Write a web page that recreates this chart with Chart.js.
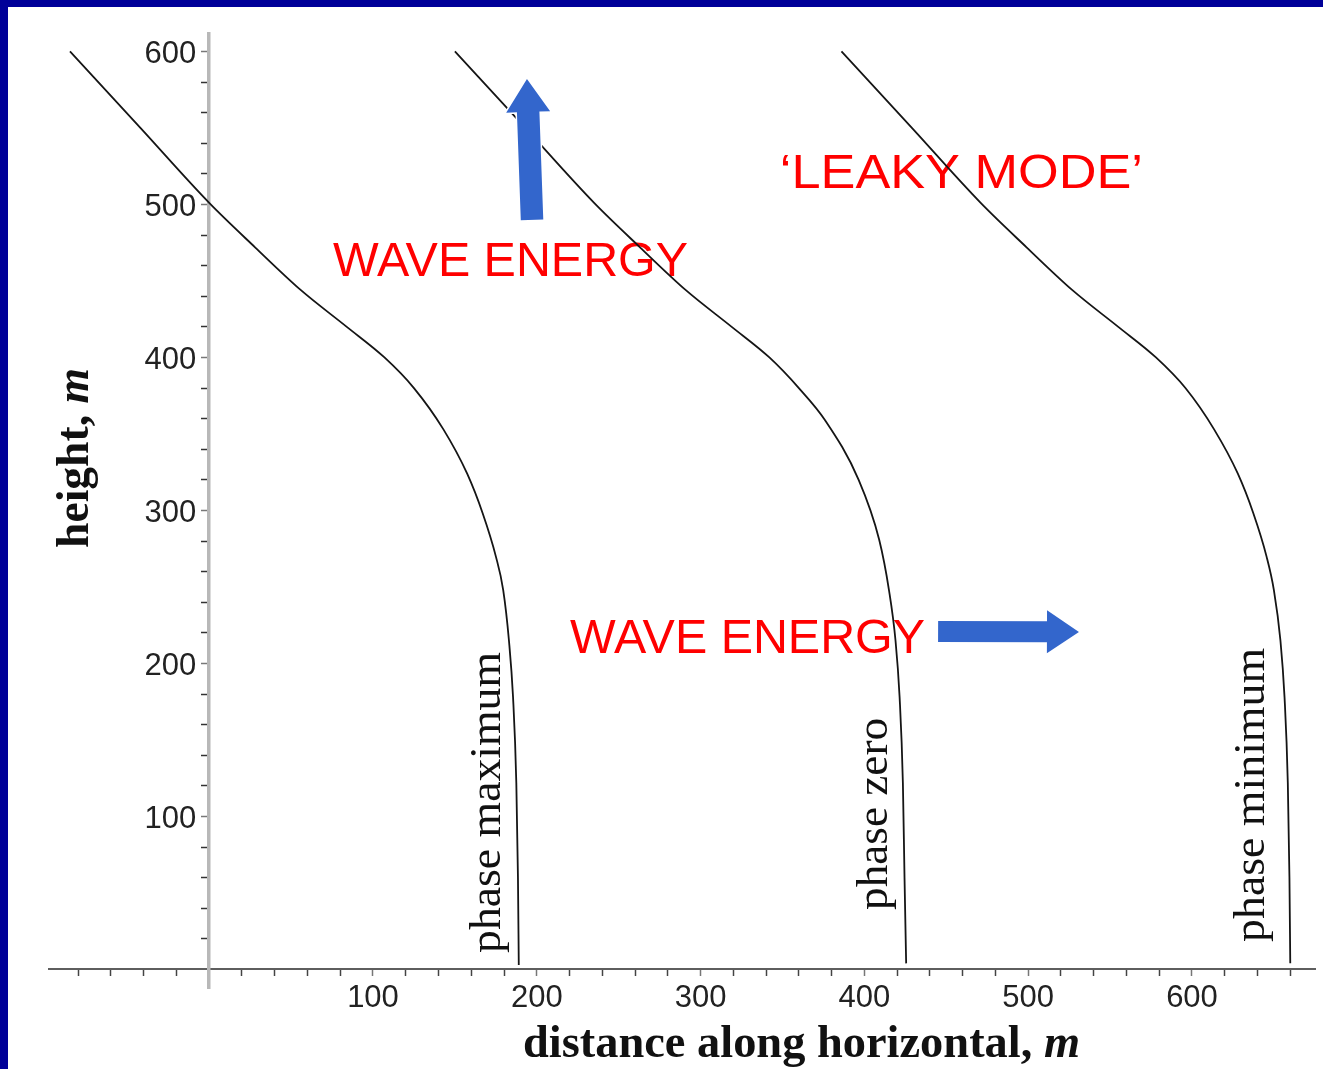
<!DOCTYPE html>
<html>
<head>
<meta charset="utf-8">
<title>Leaky mode phase lines</title>
<script src="https://cdn.jsdelivr.net/npm/chart.js@4.4.1/dist/chart.umd.min.js"></script>
<style>
  html, body { margin: 0; padding: 0; background: #000099; overflow: hidden; }
  #panel { position: absolute; left: 8px; top: 7px; right: 0; bottom: 0; background: #ffffff; }
  #wrap { position: absolute; left: 0; top: 0; width: 1323px; height: 1069px; }
</style>
</head>
<body>
<div id="panel"></div>
<div id="wrap"><canvas id="chart"></canvas></div>
<script>
// Lines of constant phase (height in m against horizontal distance in m)
const PHASE_MAX_HEIGHT = [600, 550, 501, 472, 444, 420, 400, 380, 353, 324, 298, 270, 248, 215, 178, 122, 60, 3];
const PHASE_MAX_DIST   = [-85, -42, 0, 28, 56, 84, 107, 125, 143, 157.5, 167, 175, 179.5, 183, 185.5, 187.5, 188.5, 189];

const PHASE_ZERO_HEIGHT = [600, 550, 501, 472, 444, 420, 400, 380, 359, 320, 281, 248, 215, 178, 122, 60, 4];
const PHASE_ZERO_DIST   = [150, 193, 235, 263, 291, 319, 342, 360, 376, 396.5, 409, 415, 419, 421.5, 423.5, 424.5, 425.5];

const PHASE_MIN_HEIGHT = [600, 550, 501, 472, 444, 420, 400, 380, 353, 324, 298, 270, 248, 215, 178, 122, 60, 4];
const PHASE_MIN_DIST   = [386, 429, 471, 499, 527, 555, 578, 596, 613.5, 628, 637.5, 645.5, 650, 654, 656.5, 658.5, 659.5, 660];

// Axis ticks
const X_TICK_LABELS = [100, 200, 300, 400, 500, 600];
const Y_TICK_LABELS = [100, 200, 300, 400, 500, 600];
const X_MINOR = { from: -80, to: 660, step: 20 };
const Y_MINOR = { from: 20, to: 600, step: 20 };

// Text
const CURVE_LABELS = ['phase maximum', 'phase zero', 'phase minimum'];
const X_TITLE = ['distance along horizontal, ', 'm'];
const Y_TITLE = ['height, ', 'm'];
const ENERGY_TEXT = 'WAVE ENERGY';
const MODE_TEXT = '\u2018LEAKY MODE\u2019';

function toPoints(xs, ys) {
  return xs.map((x, i) => ({ x: x, y: ys[i] }));
}
function tickRange(r) {
  const out = [];
  for (let v = r.from; v <= r.to + 1e-9; v += r.step) if (v !== 0) out.push(v);
  return out;
}

// Linear scale whose tick labels can be nudged away from a centred axis line
class ShiftedLinearScale extends Chart.LinearScale {
  _computeLabelItems(chartArea) {
    const items = super._computeLabelItems(chartArea);
    const dx = this.options.labelShiftX || 0;
    const dy = this.options.labelShiftY || 0;
    items.forEach(it => {
      it.options.translation[0] += dx;
      it.options.translation[1] += dy;
    });
    return items;
  }
}
ShiftedLinearScale.id = 'shiftedLinear';
ShiftedLinearScale.defaults = Chart.LinearScale.defaults;
Chart.register(ShiftedLinearScale);

const SERIF = "'Liberation Serif', 'Times New Roman', serif";
const SANS = "'Liberation Sans', Arial, sans-serif";

// Draw a sequence of differently styled text runs, optionally stretched to a length
function drawRuns(ctx, runs, x, y, rotation, targetLen, align) {
  ctx.save();
  ctx.translate(x, y);
  ctx.rotate(rotation);
  let total = 0;
  runs.forEach(r => { ctx.font = r.font; r.w = ctx.measureText(r.text).width; total += r.w; });
  const s = targetLen ? targetLen / total : 1;
  ctx.scale(s, 1);
  let cx = align === 'center' ? -total / 2 : 0;
  ctx.textAlign = 'left';
  ctx.textBaseline = 'alphabetic';
  runs.forEach(r => {
    ctx.font = r.font;
    ctx.fillStyle = r.color;
    ctx.fillText(r.text, cx, 0);
    cx += r.w;
  });
  ctx.restore();
}

function drawArrow(ctx, x0, y0, x1, y1, shaftW, headW, headL, color) {
  const dx = x1 - x0, dy = y1 - y0, len = Math.hypot(dx, dy);
  const ux = dx / len, uy = dy / len, px = -uy, py = ux;
  const bx = x1 - ux * headL, by = y1 - uy * headL;
  ctx.save();
  ctx.beginPath();
  ctx.moveTo(x0 + px * shaftW / 2, y0 + py * shaftW / 2);
  ctx.lineTo(bx + px * shaftW / 2, by + py * shaftW / 2);
  ctx.lineTo(bx + px * headW / 2, by + py * headW / 2);
  ctx.lineTo(x1, y1);
  ctx.lineTo(bx - px * headW / 2, by - py * headW / 2);
  ctx.lineTo(bx - px * shaftW / 2, by - py * shaftW / 2);
  ctx.lineTo(x0 - px * shaftW / 2, y0 - py * shaftW / 2);
  ctx.closePath();
  ctx.lineJoin = 'miter';
  ctx.strokeStyle = '#ffffff';
  ctx.lineWidth = 3;
  ctx.stroke();
  ctx.fillStyle = color;
  ctx.fill();
  ctx.restore();
}

// Annotation anchors in data units (distance, height)
const ENERGY_UP_LABEL = { x: 75.6, y: 453.3, len: 355 };
const ENERGY_RIGHT_LABEL = { x: 220.3, y: 206.9, len: 355 };
const MODE_LABEL = { x: 348.4, y: 510.8, len: 363 };
const UP_ARROW = { from: { x: 197.1, y: 489.9 }, to: { x: 194.0, y: 582.0 } };
const RIGHT_ARROW = { from: { x: 445.0, y: 220.9 }, to: { x: 531.0, y: 220.6 } };
const CURVE_LABEL_ANCHORS = [
  { x: 177.5, y: 10.8, len: 301 },
  { x: 413.5, y: 38.9, len: 192 },
  { x: 643.9, y: 18.0, len: 294 }
];

const annotations = {
  id: 'annotations',
  beforeDatasetsDraw(chart) {
    const { ctx, scales: { x, y } } = chart;
    const red = (txt, a) => drawRuns(ctx, [{ text: txt, font: '48px ' + SANS, color: '#ff0000' }],
      x.getPixelForValue(a.x), y.getPixelForValue(a.y), 0, a.len, 'left');
    red(ENERGY_TEXT, ENERGY_UP_LABEL);
    red(ENERGY_TEXT, ENERGY_RIGHT_LABEL);
    red(MODE_TEXT, MODE_LABEL);
  },
  afterDatasetsDraw(chart) {
    const { ctx, scales: { x, y } } = chart;
    drawArrow(ctx,
      x.getPixelForValue(UP_ARROW.from.x), y.getPixelForValue(UP_ARROW.from.y),
      x.getPixelForValue(UP_ARROW.to.x), y.getPixelForValue(UP_ARROW.to.y),
      22.5, 44, 33, '#3366cc');
    drawArrow(ctx,
      x.getPixelForValue(RIGHT_ARROW.from.x), y.getPixelForValue(RIGHT_ARROW.from.y),
      x.getPixelForValue(RIGHT_ARROW.to.x), y.getPixelForValue(RIGHT_ARROW.to.y),
      21, 43, 32, '#3366cc');

    // curve names, written upwards along each line
    CURVE_LABELS.forEach((txt, i) => {
      const a = CURVE_LABEL_ANCHORS[i];
      drawRuns(ctx, [{ text: txt, font: '44px ' + SERIF, color: '#111' }],
        x.getPixelForValue(a.x), y.getPixelForValue(a.y), -Math.PI / 2, a.len, 'left');
    });

    // axis titles
    drawRuns(ctx, [
      { text: X_TITLE[0], font: 'bold 46px ' + SERIF, color: '#111' },
      { text: X_TITLE[1], font: 'italic bold 46px ' + SERIF, color: '#111' }
    ], 801.5, 1057, 0, 557, 'center');
    drawRuns(ctx, [
      { text: Y_TITLE[0], font: 'bold 46px ' + SERIF, color: '#111' },
      { text: Y_TITLE[1], font: 'italic bold 46px ' + SERIF, color: '#111' }
    ], 88, 458, -Math.PI / 2, 180, 'center');
  }
};

const lineStyle = {
  showLine: true,
  borderColor: '#151515',
  borderWidth: 1.8,
  pointRadius: 0,
  cubicInterpolationMode: 'monotone',
  fill: false
};

new Chart(document.getElementById('chart'), {
  type: 'scatter',
  data: {
    datasets: [
      Object.assign({ label: CURVE_LABELS[0], data: toPoints(PHASE_MAX_DIST, PHASE_MAX_HEIGHT) }, lineStyle),
      Object.assign({ label: CURVE_LABELS[1], data: toPoints(PHASE_ZERO_DIST, PHASE_ZERO_HEIGHT) }, lineStyle),
      Object.assign({ label: CURVE_LABELS[2], data: toPoints(PHASE_MIN_DIST, PHASE_MIN_HEIGHT) }, lineStyle)
    ]
  },
  options: {
    responsive: true,
    maintainAspectRatio: false,
    animation: false,
    events: [],
    layout: { padding: { left: 49, top: 34, right: 8, bottom: 81 } },
    plugins: { legend: { display: false }, tooltip: { enabled: false } },
    scales: {
      x: {
        type: 'shiftedLinear',
        position: { y: 0 },
        min: -97.8,
        max: 675.1,
        afterBuildTicks: s => { s.ticks = tickRange(X_MINOR).map(v => ({ value: v })); },
        border: { display: true, color: '#5e5e5e', width: 2 },
        grid: {
          display: true, drawOnChartArea: false, drawTicks: true, tickLength: 6,
          tickColor: c => (c.tick && c.tick.value % 100 === 0) ? '#777777' : '#444444',
          tickWidth: 1.5
        },
        ticks: {
          autoSkip: false, maxRotation: 0, minRotation: 0, padding: 4,
          color: '#222222',
          font: { family: SANS, size: 31 },
          callback: v => X_TICK_LABELS.includes(v) ? String(v) : ''
        }
      },
      y: {
        type: 'shiftedLinear',
        position: { x: 0 },
        min: -12.1,
        max: 611.4,
        labelShiftX: -13,
        labelShiftY: 3,
        afterBuildTicks: s => { s.ticks = tickRange(Y_MINOR).map(v => ({ value: v })); },
        border: { display: true, color: '#b8b8b8', width: 3.5 },
        grid: {
          display: true, drawOnChartArea: false, drawTicks: true, tickLength: 6,
          tickColor: c => (c.tick && c.tick.value % 100 === 0) ? '#777777' : '#333333',
          tickWidth: 1.5
        },
        ticks: {
          autoSkip: false,
          color: '#222222',
          font: { family: SANS, size: 31 },
          callback: v => Y_TICK_LABELS.includes(v) ? String(v) : ''
        }
      }
    }
  },
  plugins: [annotations]
});
</script>
</body>
</html>
